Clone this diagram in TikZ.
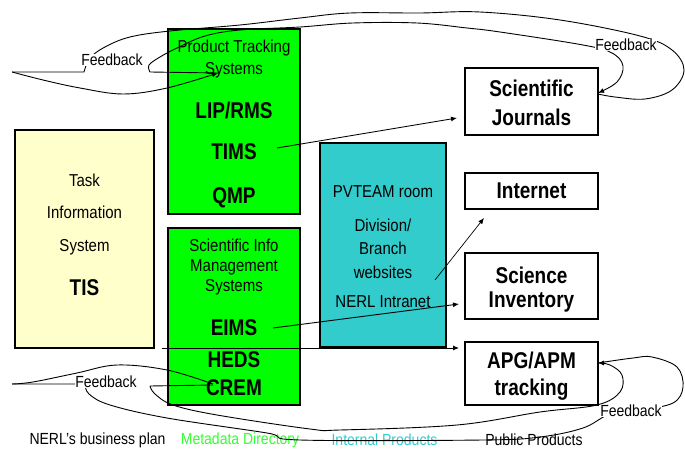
\documentclass[tikz,border=0pt]{standalone}
\usepackage{fontspec}
\setmainfont{Liberation Sans}
\usetikzlibrary{arrows.meta}
\definecolor{tisfill}{HTML}{FFFFCC}
\definecolor{grn}{HTML}{00FF00}
\definecolor{tealbox}{HTML}{33CCCC}
\definecolor{lgreen}{HTML}{33FF33}
\newcommand{\smtxt}[1]{\scalebox{1}[1.15]{\fontsize{15}{15}\selectfont #1}}
\newcommand{\bgtxt}[1]{\scalebox{1}[1.2]{\fontsize{19}{19}\selectfont\bfseries #1}}
\newcommand{\fbtxt}[1]{\scalebox{1}[1.15]{\fontsize{14}{14}\selectfont #1}}
\begin{document}
\begin{tikzpicture}[x=1pt,y=-1pt,
  box/.style={draw=black,line width=1.2pt,inner sep=0pt,outer sep=0pt},
  lbl/.style={inner sep=0pt,outer sep=0pt,anchor=center},
  fblbl/.style={inner sep=0.5pt,outer sep=0pt,fill=white,anchor=center},
  fb/.style={line width=0.9pt,black},
  arr/.style={line width=0.9pt,black,-{Latex[length=6pt,width=5pt]}}]
\useasboundingbox (0,0) rectangle (685,449);

% boxes
\node[box,fill=tisfill,minimum width=139pt,minimum height=218pt] (tis) at (84.5,239) {};
\node[box,fill=grn,minimum width=132pt,minimum height=185pt] (pts) at (234,121.5) {};
\node[box,fill=grn,minimum width=132pt,minimum height=177pt] (sims) at (234,316.5) {};
\node[box,fill=tealbox,minimum width=126pt,minimum height=204pt] (intra) at (383,245) {};
\node[box,fill=white,minimum width=133pt,minimum height=67pt] (sj) at (531.5,101.5) {};
\node[box,fill=white,minimum width=133pt,minimum height=36pt] (inet) at (531.5,191) {};
\node[box,fill=white,minimum width=133pt,minimum height=66pt] (sinv) at (531.5,286) {};
\node[box,fill=white,minimum width=133pt,minimum height=63pt] (apg) at (531.5,373.5) {};

% texts in TIS
\node[lbl] (t1) at (84.5,180) {\smtxt{Task}};
\node[lbl] (t2) at (84.5,212) {\smtxt{Information}};
\node[lbl] (t3) at (84.5,247) {\smtxt{System}};
\node[lbl] (t4) at (84.5,288) {\bgtxt{TIS}};

% product tracking
\node[lbl] (p1) at (234,48) {\smtxt{Product Tracking}};
\node[lbl] (p2) at (234,70) {\smtxt{Systems}};
\node[lbl] (p3) at (234,110) {\bgtxt{LIP/RMS}};
\node[lbl] (tims) at (234,152) {\bgtxt{TIMS}};
\node[lbl] (p5) at (234,198) {\bgtxt{QMP}};

% scientific info
\node[lbl] (s1) at (234,245) {\smtxt{Scientific Info}};
\node[lbl] (s2) at (234,267) {\smtxt{Management}};
\node[lbl] (s3) at (234,287) {\smtxt{Systems}};
\node[lbl] (eims) at (234,328) {\bgtxt{EIMS}};
\node[lbl] (heds) at (234,360) {\bgtxt{HEDS}};
\node[lbl] (crem) at (234,388) {\bgtxt{CREM}};

% intranet
\node[lbl] (i1) at (383,192) {\smtxt{PVTEAM room}};
\node[lbl] (i2) at (383,225) {\smtxt{Division/}};
\node[lbl] (i3) at (383,248) {\smtxt{Branch}};
\node[lbl] (i4) at (383,272) {\smtxt{websites}};
\node[lbl] (i5) at (383,302) {\smtxt{NERL Intranet}};

% right boxes
\node[lbl] (r1) at (531.5,88) {\bgtxt{Scientific}};
\node[lbl] (r2) at (531.5,117) {\bgtxt{Journals}};
\node[lbl] (r3) at (531.5,191) {\bgtxt{Internet}};
\node[lbl] (r4) at (531.5,275) {\bgtxt{Science}};
\node[lbl] (r5) at (531.5,302) {\bgtxt{Inventory}};
\node[lbl] (r6) at (531.5,360) {\bgtxt{APG/APM}};
\node[lbl] (r7) at (531.5,390) {\bgtxt{tracking}};

% legend
\node[lbl] (lg1) at (97.5,440) {\fbtxt{NERL's business plan}};
\node[lbl,text=lgreen] (lg2) at (240,440) {\fbtxt{Metadata Directory}};
\node[lbl,text=tealbox] (lg3) at (384.5,440) {\fbtxt{Internal Products}};
\node[lbl] (lg4) at (534,440) {\fbtxt{Public Products}};

% straight arrows
\coordinate (timsout) at (277,148);
\coordinate (sjin) at (457,118);
\coordinate (eimsout) at (273,328);
\coordinate (sinvin) at (459,304);
\coordinate (inetfrom) at (435,280);
\coordinate (inetin) at (484,218);
\coordinate (tisout) at (162,348);
\coordinate (apgin) at (459,348);
\draw[arr] (timsout) -- (sjin);
\draw[arr] (eimsout) -- (sinvin);
\draw[arr,line width=0.7pt] (inetfrom) -- (inetin);
\draw[arr] (tisout) -- (apgin);

% top feedback loop
\coordinate (fbTL) at (12,72);
\coordinate (fbTin) at (218,73);
\coordinate (sjR) at (598,94);
\draw[fb,-{Latex[length=6pt,width=5pt]}] plot[smooth,tension=0.6] coordinates
  {(fbTL) (43,80) (80,88) (123,94) (167,88) (218,73)};
\draw[fb,-{Latex[length=6pt,width=5pt]}] (fbTin) -- (150,72)
  plot[smooth,tension=0.6] coordinates {(150,72) (149,65) (160,57) (177,48) (205,36) (240,30) (300,27) (353,23) (417,23) (467,28) (500,32) (583,45) (612,53) (623,66) (617,82) (598,93)};
\draw[fb] plot[smooth,tension=0.6] coordinates
  {(sjR) (615,97) (645,99) (672,90) (684,70) (672,50) (640,36) (560,20) (480,12) (420,13) (350,13) (300,18) (240,25) (170,31) (130,37) (105,47) (90,58) (84,72)} -- (fbTL);

% bottom feedback loop
\coordinate (fbBL) at (12,384);
\coordinate (cremin) at (213,385);
\coordinate (apgR) at (598,363);
\draw[fb] plot[smooth,tension=0.6] coordinates
  {(fbBL) (33,382) (77,373) (117,365) (167,370) (213,384)};
\draw[fb,-{Latex[length=6pt,width=5pt]}] (cremin) -- (150,386)
  plot[smooth,tension=0.6] coordinates {(150,386) (155,394) (173,405) (217,415) (310,429) (340,430) (457,425) (540,412) (597,405) (620,392) (622,375) (610,365) (598,363)};
\draw[fb] plot[smooth,tension=0.6] coordinates
  {(apgR) (633,358) (652,357) (677,367) (683,387) (673,403) (640,410) (610,414) (583,428) (540,437) (483,440) (300,440) (267,433) (167,418) (110,405) (89,394) (85,384)} -- (fbBL);

% feedback labels
\node[fblbl] (fb1) at (112,60) {\fbtxt{Feedback}};
\node[fblbl] (fb2) at (626,45) {\fbtxt{Feedback}};
\node[fblbl] (fb3) at (106,382) {\fbtxt{Feedback}};
\node[fblbl] (fb4) at (631,411) {\fbtxt{Feedback}};
\end{tikzpicture}
\end{document}
